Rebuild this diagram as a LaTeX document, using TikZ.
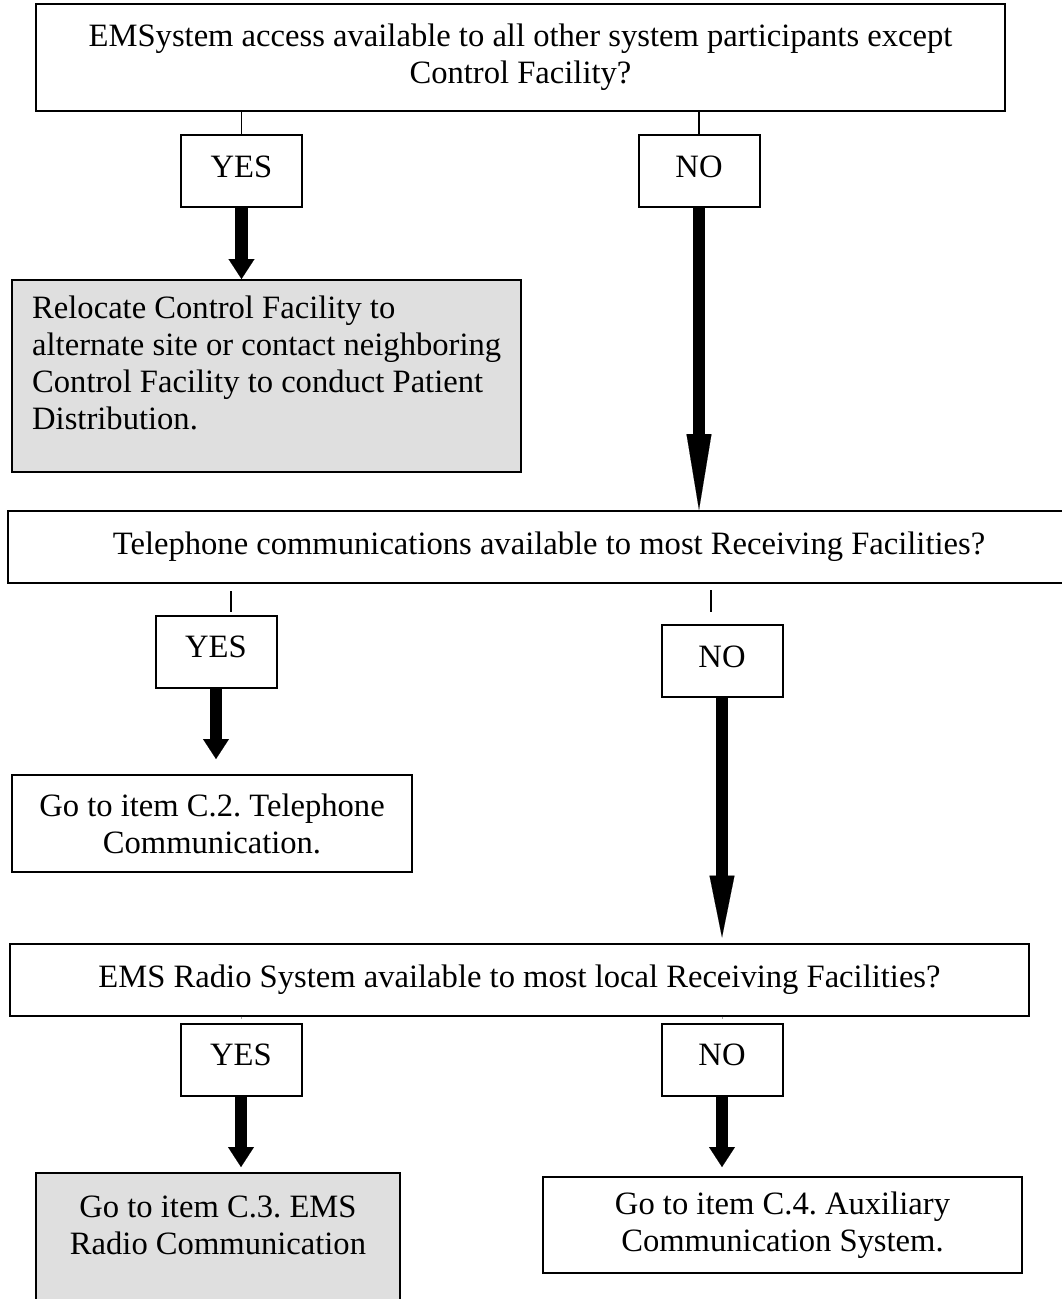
\documentclass[tikz,border=0pt]{standalone}
\usepackage{fontspec}
\setmainfont{Liberation Serif}
\usetikzlibrary{arrows.meta,calc}
\frenchspacing
\begin{document}
\begin{tikzpicture}[x=1pt,y=-1pt,
  every node/.style={font=\fontsize{32.6}{37}\selectfont, inner sep=0pt},
  qbox/.style={draw, line width=2pt, rectangle, align=center},
  ansbox/.style={draw, line width=2pt, rectangle, minimum width=121pt, minimum height=72pt, text height=22pt, text depth=10pt},
  shadebox/.style={draw, line width=2pt, rectangle, fill=gray!25},
  linkline/.style={line width=1.5pt},
  specktick/.style={line width=1pt, gray!70},
  bigarrow/.style={line width=12.5pt, -{Triangle[width=26pt,length=20pt,line width=0.1pt]}},
  longarrowA/.style={line width=12.5pt, -{Triangle[width=25pt,length=76pt,line width=0.1pt]}},
  longarrowB/.style={line width=12.5pt, -{Triangle[width=25pt,length=62pt,line width=0.1pt]}},
]
\useasboundingbox (0,0) rectangle (1062,1299);
\fill[white] (0,0) rectangle (1062,1299);

% first question
\node[qbox, minimum width=969pt, minimum height=107pt] (q1) at (520.5,57.5)
  {EMSystem access available to all other system participants except\\Control Facility?};
\node[ansbox] (y1) at (241.5,171) {YES};
\node[ansbox] (n1) at (699,171) {NO};
\node[shadebox, minimum width=509pt, minimum height=192pt] (reloc) at (266.5,376) {};
\node[anchor=north west, align=left] (reloctxt) at ($(reloc.north west)+(21,17)$)
  {Relocate Control Facility to\\alternate site or contact neighboring\\Control Facility to conduct Patient\\Distribution.};

% second question
\node[qbox, minimum width=1082pt, minimum height=72pt] (q2) at (549,547)
  {Telephone communications available to most Receiving Facilities?};
\node[ansbox] (y2) at (216,651.5) {YES};
\node[ansbox] (n2) at (722,661) {NO};
\node[qbox, minimum width=400pt, minimum height=97pt] (c2) at (212,823.5)
  {Go to item C.2. Telephone\\Communication.};

% third question
\node[qbox, minimum width=1019pt, minimum height=72pt] (q3) at (519.5,979.5)
  {EMS Radio System available to most local Receiving Facilities?};
\node[ansbox] (y3) at (241,1059.5) {YES};
\node[ansbox] (n3) at (722,1059.5) {NO};
\node[shadebox, minimum width=364pt, minimum height=160pt] (c3) at (218,1253) {};
\node[align=center] (c3txt) at (218,1225) {Go to item C.3. EMS\\Radio Communication};
\node[qbox, minimum width=479pt, minimum height=96pt] (c4) at (782.5,1225)
  {Go to item C.4. Auxiliary\\Communication System.};

% connectors
\draw[linkline] (y1.north) -- (y1.north |- q1.south);
\draw[linkline] (n1.north) -- (n1.north |- q1.south);
\draw[bigarrow] (y1.south) -- (y1.south |- reloc.north);
\draw[longarrowA] (n1.south) -- (n1.south |- q2.north);

\coordinate (t1a) at (231,591);
\coordinate (t1b) at (231,612);
\coordinate (t2a) at (711,590);
\coordinate (t2b) at (711,612);
\draw[linkline] (t1a) -- (t1b);
\draw[linkline] (t2a) -- (t2b);
\draw[bigarrow, shorten >=15pt] (y2.south) -- (y2.south |- c2.north);
\draw[longarrowB, shorten >=5pt] (n2.south) -- (n2.south |- q3.north);

\draw[specktick, shorten >=4pt] (y3.north |- q3.south) -- (y3.north);
\draw[specktick, shorten >=4pt] (n3.north |- q3.south) -- (n3.north);
\draw[bigarrow, shorten >=5pt] (y3.south) -- (y3.south |- c3.north);
\draw[bigarrow, shorten >=9pt] (n3.south) -- (n3.south |- c4.north);
\end{tikzpicture}
\end{document}
